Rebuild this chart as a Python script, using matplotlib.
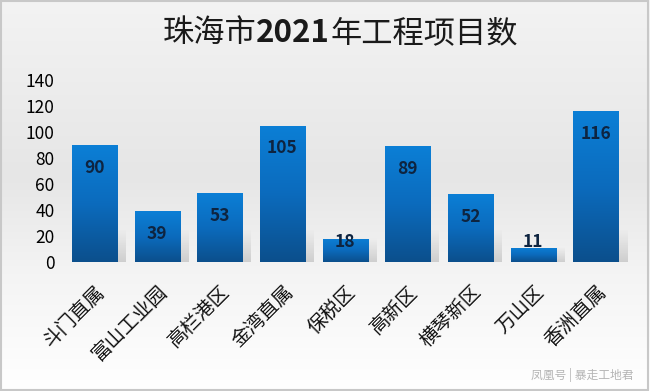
import numpy as np
import matplotlib.pyplot as plt
from matplotlib.colors import LinearSegmentedColormap
from matplotlib.patches import Rectangle
from matplotlib.transforms import ScaledTranslation

plt.rcParams['font.family'] = ['Noto Sans CJK SC', 'DejaVu Sans']

# 数据
districts = ['斗门直属', '富山工业园', '高栏港区', '金湾直属', '保税区',
             '高新区', '横琴新区', '万山区', '香洲直属']
counts = [90, 39, 53, 105, 18, 89, 52, 11, 116]
y_ticks = [0, 20, 40, 60, 80, 100, 120, 140]
title_parts = ['珠海市', '2021', '年工程项目数']
watermark = '凤凰号 | 暴走工地君'

fig = plt.figure(figsize=(6.5, 3.91), dpi=100)

# 背景渐变
bg = fig.add_axes([0, 0, 1, 1], zorder=0)
bg_cmap = LinearSegmentedColormap.from_list(
    'bg', [(0, '#ffffff'), (0.3, '#f4f4f4'), (0.55, '#e6e6e6'), (1, '#f3f3f3')])
bg.imshow(np.linspace(0, 1, 256).reshape(-1, 1), aspect='auto', cmap=bg_cmap,
          extent=[0, 1, 0, 1], origin='lower')
bg.add_patch(Rectangle((0.002, 0.003), 0.995, 0.994, fill=False,
                       edgecolor='#c8c8c8', lw=1.5))
bg.set_xlim(0, 1)
bg.set_ylim(0, 1)
bg.axis('off')

ax = fig.add_axes([0.097, 0.330, 0.868, 0.465], zorder=1)
ax.set_facecolor('none')

x = np.arange(len(districts))
bars = ax.bar(x, counts, width=0.72, color='none', edgecolor='#1a5a94', lw=0.6)

bar_cmap = LinearSegmentedColormap.from_list('bar', ['#0b4f8c', '#0c6bbd', '#0b7fd6'])
grad = np.linspace(0, 1, 256).reshape(-1, 1)
# 阴影(向上淡出)
shade = np.zeros((64, 1, 4))
shade[..., :3] = 0.55
shade[:, 0, 3] = np.linspace(0.35, 0, 64)
for b, v in zip(bars, counts):
    ax.imshow(shade, aspect='auto', origin='lower', zorder=0.5,
              extent=[b.get_x() + 0.45, b.get_x() + 0.85, 0, min(v, 25)])
    im = ax.imshow(grad, aspect='auto', cmap=bar_cmap, origin='lower',
                   extent=[b.get_x(), b.get_x() + b.get_width(), 0, v], zorder=1)
    im.set_clip_path(b)
    ax.text(b.get_x() + b.get_width() / 2, max(v - 17.5, 15), str(v),
            ha='center', va='center', fontsize=12.5, fontweight='bold',
            color='#0e2440', zorder=3)

ax.set_xlim(-0.5, len(districts) - 0.5)
ax.set_ylim(0, 140)
ax.set_yticks(y_ticks)
ax.set_xticks(x)
ax.set_xticklabels(districts, rotation=45, ha='right', rotation_mode='anchor',
                   fontsize=14, color='#111111')
offset = ScaledTranslation(6 / 100, 0, fig.dpi_scale_trans)
for lbl in ax.get_xticklabels():
    lbl.set_transform(lbl.get_transform() + offset)
ax.tick_params(axis='y', labelsize=12.5, length=0, pad=6)
ax.tick_params(axis='x', length=0, pad=14)
for s in ax.spines.values():
    s.set_visible(False)

# 标题:2021加粗
fig.canvas.draw()
r = fig.canvas.get_renderer()
texts = []
for i, part in enumerate(title_parts):
    t = fig.text(0, 0.915, part, ha='left', va='center', fontsize=22.5,
                 color='#1a1a1a', fontweight='bold' if i == 1 else 'normal')
    texts.append(t)
widths = [t.get_window_extent(r).width for t in texts]
x0 = 340 - sum(widths) / 2
for t, w in zip(texts, widths):
    t.set_x(x0 / 650)
    x0 += w

fig.text(0.975, 0.04, watermark, ha='right', va='center', fontsize=8.5, color='#b5b5b5')

fig.savefig('out.png', dpi=100)
